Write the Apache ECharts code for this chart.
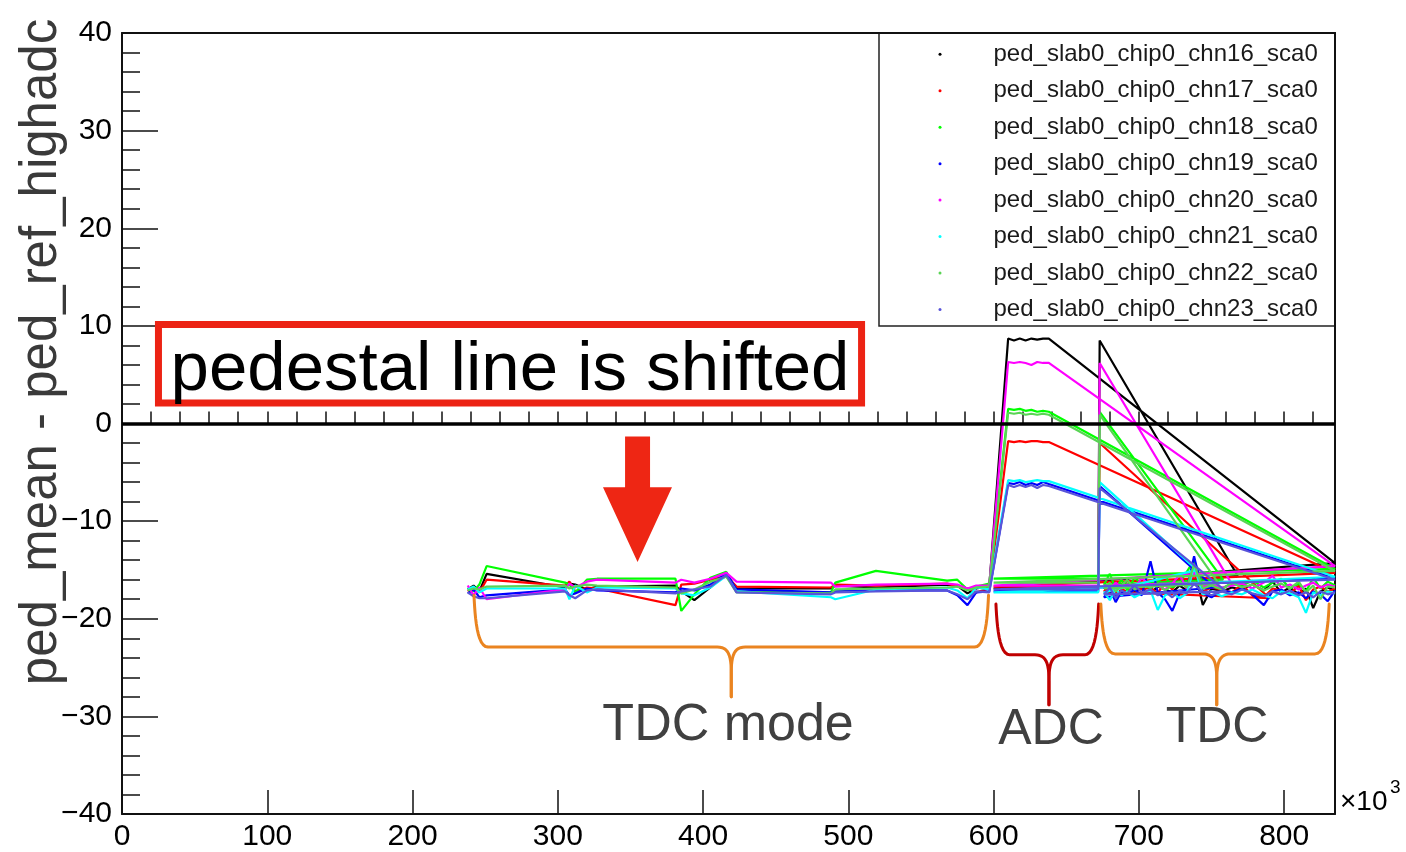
<!DOCTYPE html>
<html>
<head>
<meta charset="utf-8">
<script src="https://cdn.jsdelivr.net/npm/echarts@6/dist/echarts.min.js"></script>
<style>
  html, body { margin: 0; padding: 0; background: #ffffff; }
  #chart { width: 1406px; height: 852px; }
</style>
</head>
<body>
<div id="chart"></div>
<script>
// Pedestal drift per channel: ped_mean - ped_ref_highadc versus time (x in units of 10^3)
const channels = [
  'ped_slab0_chip0_chn16_sca0', 'ped_slab0_chip0_chn17_sca0',
  'ped_slab0_chip0_chn18_sca0', 'ped_slab0_chip0_chn19_sca0',
  'ped_slab0_chip0_chn20_sca0', 'ped_slab0_chip0_chn21_sca0',
  'ped_slab0_chip0_chn22_sca0', 'ped_slab0_chip0_chn23_sca0'
];
const colors = ['#000000', '#ff0000', '#00ff00', '#0000ff', '#ff00ff', '#00ffff', '#59d454', '#5954d9'];

const xRange = [0, 835];
const yRange = [-40, 40];

// first TDC-mode period
const tdc1X = [238, 242, 246, 251, 305, 308, 312, 320, 327, 381, 385, 394, 405, 416, 423, 488, 491, 519, 568, 575, 582, 588, 597];
const tdc1Y = [
  [-17.0, -16.6, -17.2, -15.4, -16.8, -16.4, -16.5, -17.0, -16.7, -16.6, -17.2, -18.1, -16.8, -15.4, -16.9, -16.9, -16.6, -16.8, -16.5, -16.6, -17.4, -16.9, -16.7],
  [-17.2, -16.8, -17.3, -16.0, -16.6, -16.2, -17.2, -16.8, -16.9, -18.6, -16.5, -16.4, -16.0, -15.6, -16.7, -16.8, -16.5, -16.6, -16.4, -16.7, -16.9, -17.3, -16.9],
  [-16.8, -17.2, -16.5, -14.6, -16.3, -16.5, -17.3, -16.0, -15.9, -15.9, -19.2, -17.5, -15.8, -15.2, -17.2, -17.3, -16.3, -15.1, -16.1, -16.0, -17.0, -16.7, -16.4],
  [-17.4, -17.0, -17.8, -17.6, -17.0, -17.6, -17.4, -16.9, -17.1, -17.3, -16.9, -17.1, -16.5, -15.3, -17.0, -17.3, -17.2, -17.1, -17.1, -17.6, -18.6, -17.3, -17.2],
  [-16.6, -17.6, -16.8, -18.0, -17.0, -16.4, -16.8, -16.2, -16.0, -16.3, -16.0, -16.3, -15.9, -15.3, -16.2, -16.3, -16.7, -16.5, -16.4, -16.5, -16.9, -16.6, -16.6],
  [-17.0, -16.7, -17.3, -16.9, -16.9, -18.0, -16.6, -17.3, -16.8, -16.9, -17.4, -17.6, -16.8, -15.6, -17.2, -17.8, -18.0, -17.0, -16.8, -17.1, -17.9, -16.8, -17.0],
  [-17.1, -16.9, -17.0, -16.7, -16.6, -16.9, -16.7, -16.5, -16.6, -16.8, -17.4, -17.0, -16.2, -15.7, -17.3, -17.4, -17.0, -16.9, -16.8, -16.7, -17.1, -16.8, -16.7],
  [-17.3, -17.7, -17.9, -17.9, -17.2, -17.6, -17.9, -17.1, -17.0, -17.4, -17.2, -17.0, -16.7, -15.5, -17.3, -17.5, -17.3, -17.2, -17.1, -17.5, -18.0, -17.2, -17.3]
];

// first ADC-mode plateau
const adc1X = [610, 614, 618, 622, 626, 630, 634, 638];
const adc1Y = [
  [8.7, 8.5, 8.7, 8.5, 8.7, 8.6, 8.7, 8.7],
  [-1.8, -1.9, -1.8, -1.9, -1.8, -1.8, -1.9, -1.9],
  [1.5, 1.4, 1.5, 1.3, 1.4, 1.2, 1.3, 1.2],
  [-6.1, -6.2, -6.0, -6.3, -6.1, -6.3, -6.0, -6.2],
  [6.3, 6.2, 6.3, 6.2, 6.0, 6.3, 6.2, 6.2],
  [-5.8, -5.9, -5.8, -6.0, -5.9, -5.8, -5.9, -5.9],
  [1.1, 1.0, 1.1, 0.9, 1.0, 0.9, 1.0, 0.9],
  [-6.3, -6.5, -6.3, -6.5, -6.3, -6.6, -6.3, -6.4]
];

// last run of the series, then the flat TDC readings under the ADC period
const tailX = 835;
const tailY = [-14.3, -15.3, -14.9, -15.9, -14.6, -15.7, -15.1, -16.0];
const bandX = [600, 672];
const bandY = [-16.9, -16.7, -15.9, -17.2, -16.6, -17.3, -16.3, -17.0];

// second ADC-mode reading and the following run
const adc2X = 673;
const adc2Y = [8.5, -2.0, 1.2, -6.4, 6.2, -6.0, 0.9, -6.6];
const dropX = [768, 790, 758, 752, 763, 740, 755, 760];
const dropY = [-15.6, -17.9, -16.0, -16.8, -16.2, -15.0, -16.4, -17.2];

// second TDC-mode period
const tdc2X = [676, 680, 684, 688, 692, 697, 702, 708, 713, 718, 723, 728, 733, 738, 744, 750, 757, 764, 771, 778, 786, 792, 798, 804, 810, 815, 820, 825, 830, 835];
const tdc2Y = [
  [-16.8, -17.5, -16.2, -17.0, -15.9, -17.2, -16.9, -17.4, -16.7, -17.0, -17.3, -16.6, -17.1, -14.8, -18.6, -16.9, -17.2, -16.8, -17.0, -16.5, -17.1, -16.2, -17.3, -16.8, -17.5, -16.9, -18.9, -17.2, -16.8, -17.1],
  [-17.2, -16.5, -17.8, -16.9, -17.3, -16.6, -17.0, -16.8, -17.4, -16.2, -17.0, -15.8, -16.9, -15.4, -17.2, -16.8, -17.0, -17.3, -16.5, -17.6, -17.8, -16.9, -17.1, -17.4, -16.6, -18.1, -17.0, -16.7, -17.2, -16.9],
  [-16.5, -15.4, -16.9, -16.0, -17.1, -15.8, -16.4, -16.9, -16.2, -15.6, -16.8, -16.3, -15.2, -14.0, -16.5, -16.7, -16.9, -16.4, -16.6, -16.1, -16.8, -16.3, -15.9, -16.9, -16.4, -17.2, -15.8, -16.9, -16.2, -16.6],
  [-17.8, -16.9, -18.3, -17.2, -17.5, -17.0, -17.6, -14.1, -17.3, -18.0, -19.2, -17.4, -17.0, -13.6, -17.4, -17.8, -17.1, -17.3, -16.9, -17.5, -18.6, -17.2, -17.0, -17.6, -17.3, -17.9, -17.2, -17.5, -18.2, -17.1],
  [-16.6, -17.0, -16.3, -16.8, -16.5, -16.9, -15.8, -16.7, -16.6, -17.0, -16.4, -15.5, -16.9, -15.1, -16.7, -16.5, -16.8, -16.6, -16.4, -16.9, -16.3, -15.6, -16.8, -16.5, -17.0, -16.6, -16.3, -16.8, -16.5, -16.7],
  [-17.3, -18.1, -17.0, -17.6, -17.2, -17.8, -17.4, -17.1, -19.1, -17.6, -17.3, -17.9, -17.4, -14.6, -17.5, -17.2, -17.7, -17.3, -17.5, -17.0, -17.6, -17.9, -17.2, -17.4, -17.8, -19.4, -17.3, -17.6, -17.2, -17.4],
  [-16.9, -16.3, -17.2, -16.6, -16.0, -17.0, -16.5, -16.8, -16.4, -17.1, -16.6, -16.2, -16.8, -14.4, -16.9, -16.6, -17.0, -16.3, -16.8, -16.5, -17.1, -16.7, -16.4, -16.9, -16.2, -17.3, -16.6, -18.0, -16.7, -16.8],
  [-17.5, -16.8, -17.9, -17.1, -17.4, -16.6, -17.3, -17.0, -17.6, -17.2, -17.8, -17.1, -17.4, -16.4, -17.3, -17.6, -17.2, -17.5, -17.0, -17.4, -17.7, -17.2, -17.5, -17.1, -17.6, -17.3, -17.8, -17.2, -17.5, -17.3]
];

const FONT = '"Liberation Sans", Arial, Helvetica, sans-serif';

// points of one channel, in acquisition order
function channelPoints(i) {
  const pts = [];
  tdc1X.forEach((x, k) => pts.push([x, tdc1Y[i][k]]));
  adc1X.forEach((x, k) => pts.push([x, adc1Y[i][k]]));
  pts.push([tailX, tailY[i]]);
  pts.push([bandX[0], bandY[i]]);
  pts.push([bandX[1], bandY[i]]);
  pts.push([adc2X, adc2Y[i]]);
  pts.push([dropX[i], dropY[i]]);
  tdc2X.forEach((x, k) => pts.push([x, tdc2Y[i][k]]));
  return pts;
}

const series = channels.map((name, i) => ({
  name: name,
  type: 'line',
  data: channelPoints(i),
  xAxisIndex: 0,
  yAxisIndex: 0,
  showSymbol: false,
  symbol: 'circle',
  color: colors[i],
  lineStyle: { width: 2.2, color: colors[i] },
  itemStyle: { color: colors[i] },
  emphasis: { disabled: true },
  animation: false
}));

// reference line at zero
series[series.length - 1].markLine = {
  silent: true,
  symbol: ['none', 'none'],
  z: 10,
  label: { show: false },
  lineStyle: { color: '#000000', width: 3.5, type: 'solid' },
  data: [{ yAxis: 0 }]
};

const chart = echarts.init(document.getElementById('chart'), null, { renderer: 'canvas' });

const minus = v => String(v).replace('-', '\u2212');

chart.setOption({
  backgroundColor: '#ffffff',
  animation: false,
  grid: { left: 122, right: 71, top: 33, bottom: 35, containLabel: false },
  legend: {
    orient: 'vertical',
    left: 933.5,
    top: 37.3,
    icon: 'circle',
    itemWidth: 3,
    itemHeight: 3,
    itemGap: 12.45,
    selectedMode: false,
    textStyle: { fontFamily: FONT, fontSize: 24, color: '#1a1a1a', padding: [0, 0, 0, 47] },
    data: channels
  },
  xAxis: [
    {
      type: 'value', position: 'bottom', min: xRange[0], max: xRange[1], interval: 100,
      axisLine: { show: true, onZero: false, lineStyle: { color: '#111', width: 2 } },
      axisTick: { show: true, inside: true, length: 24, lineStyle: { color: '#111', width: 1.5 } },
      axisLabel: { fontFamily: FONT, fontSize: 30, color: '#000', margin: 8, showMaxLabel: false },
      splitLine: { show: false }
    },
    {
      type: 'value', position: 'bottom', min: xRange[0], max: xRange[1], interval: 20,
      axisLine: { show: false },
      axisTick: { show: true, inside: true, length: 12, lineStyle: { color: '#111', width: 1.5 } },
      axisLabel: { show: false },
      splitLine: { show: false }
    },
    {
      type: 'value', position: 'top', min: xRange[0], max: xRange[1],
      axisLine: { show: true, onZero: false, lineStyle: { color: '#111', width: 2 } },
      axisTick: { show: false }, axisLabel: { show: false }, splitLine: { show: false }
    }
  ],
  yAxis: [
    {
      type: 'value', position: 'left', min: yRange[0], max: yRange[1], interval: 10,
      axisLine: { show: true, onZero: false, lineStyle: { color: '#111', width: 2 } },
      axisTick: { show: true, inside: true, length: 36, lineStyle: { color: '#111', width: 1.5 } },
      minorTick: { show: true, splitNumber: 5, length: 18, lineStyle: { color: '#111', width: 1.5 } },
      axisLabel: { fontFamily: FONT, fontSize: 30, color: '#000', margin: 10, formatter: minus },
      splitLine: { show: false }
    },
    {
      type: 'value', position: 'right', min: yRange[0], max: yRange[1],
      axisLine: { show: true, onZero: false, lineStyle: { color: '#111', width: 2 } },
      axisTick: { show: false }, axisLabel: { show: false }, splitLine: { show: false }
    }
  ],
  series: series
});

// annotations placed in data coordinates
const P = (x, y) => chart.convertToPixel({ seriesIndex: 0 }, [x, y]);

// sample a cubic Bezier segment into points
function cubic(p0, p1, p2, p3, n) {
  const out = [];
  for (let k = 1; k <= n; k++) {
    const t = k / n, u = 1 - t;
    out.push([
      u * u * u * p0[0] + 3 * u * u * t * p1[0] + 3 * u * t * t * p2[0] + t * t * t * p3[0],
      u * u * u * p0[1] + 3 * u * u * t * p1[1] + 3 * u * t * t * p2[1] + t * t * t * p3[1]
    ]);
  }
  return out;
}

// one half of a curly brace, from an outer end to the tip
function braceHalf(xEnd, xc, top, h, tip, dir) {
  const pts = [[xEnd, top]];
  pts.push(...cubic([xEnd, top], [xEnd + dir * 1, h - 30], [xEnd + dir * 3, h], [xEnd + dir * 14, h], 12));
  pts.push([xc - dir * 14, h]);
  pts.push(...cubic([xc - dir * 14, h], [xc - dir * 3, h], [xc, h + 8], [xc, h + 26], 12));
  pts.push([xc, tip]);
  return pts;
}

const braces = [
  { x0: 242.3, x1: 596.5, xc: 419.4, yTop: -17.6, yH: -22.9, yTip: -28.0, color: '#ea8420' },
  { x0: 601.6, x1: 672.3, xc: 638.1, yTop: -18.5, yH: -23.7, yTip: -28.8, color: '#c00000' },
  { x0: 673.8, x1: 831.0, xc: 753.6, yTop: -18.5, yH: -23.6, yTip: -28.8, color: '#ea8420' }
];

const gridTR = P(xRange[1], yRange[1]);
const gridBR = P(xRange[1], yRange[0]);
const boxA = P(25.1, 10.15), boxB = P(509.1, 2.09);
const arrowPts = [
  [346.3, -1.33], [363.5, -1.33], [363.5, -6.53], [378.6, -6.53],
  [354.9, -14.18], [331.1, -6.53], [346.3, -6.53]
].map(p => P(p[0], p[1]));

const graphics = [];

// legend frame
graphics.push({
  type: 'rect', silent: true, z: 0,
  shape: { x: gridTR[0] - 456, y: gridTR[1], width: 456, height: 293 },
  style: { fill: '#ffffff', stroke: '#222', lineWidth: 1.5 }
});

// y axis title
graphics.push({
  type: 'text', silent: true, x: 42, y: 352, rotation: Math.PI / 2,
  style: { text: 'ped_mean - ped_ref_highadc', fontFamily: FONT, fontSize: 51, fill: '#3a3a3a', align: 'center', verticalAlign: 'middle' }
});

// x axis multiplier
graphics.push({
  type: 'text', silent: true, x: gridBR[0] + 5, y: gridBR[1] - 12,
  style: { text: '\u00d710', fontFamily: FONT, fontSize: 28, fill: '#000', align: 'left', verticalAlign: 'middle' }
});
graphics.push({
  type: 'text', silent: true, x: gridBR[0] + 55, y: gridBR[1] - 26,
  style: { text: '3', fontFamily: FONT, fontSize: 19, fill: '#000', align: 'left', verticalAlign: 'middle' }
});

// highlighted remark
graphics.push({
  type: 'rect', silent: true, z: 20,
  shape: { x: boxA[0], y: boxA[1], width: boxB[0] - boxA[0], height: boxB[1] - boxA[1] },
  style: { fill: '#ffffff', stroke: '#ec2314', lineWidth: 7 }
});
graphics.push({
  type: 'text', silent: true, z: 21,
  x: (boxA[0] + boxB[0]) / 2, y: P(0, 5.4)[1],
  style: { text: 'pedestal line is shifted', fontFamily: FONT, fontSize: 69, fill: '#000', align: 'center', verticalAlign: 'middle' }
});
graphics.push({
  type: 'polygon', silent: true, z: 20,
  shape: { points: arrowPts },
  style: { fill: '#ee2614', stroke: null }
});

braces.forEach(b => {
  const a = P(b.x0, b.yTop), r = P(b.x1, b.yTop), c = P(b.xc, b.yH), t = P(b.xc, b.yTip);
  [[a[0], 1], [r[0], -1]].forEach(([xe, dir]) => {
    graphics.push({
      type: 'polyline', silent: true, z: 20,
      shape: { points: braceHalf(xe, c[0], a[1], c[1], t[1], dir) },
      style: { fill: null, stroke: b.color, lineWidth: 3, lineJoin: 'round', lineCap: 'round' }
    });
  });
});

const labels = [
  { text: 'TDC mode', x: 417.2, y: -30.9, size: 52 },
  { text: 'ADC', x: 639.5, y: -31.4, size: 50 },
  { text: 'TDC', x: 753.8, y: -31.2, size: 50 }
];
labels.forEach(l => {
  const p = P(l.x, l.y);
  graphics.push({
    type: 'text', silent: true, z: 21, x: p[0], y: p[1],
    style: { text: l.text, fontFamily: FONT, fontSize: l.size, fill: '#404040', align: 'center', verticalAlign: 'middle' }
  });
});

chart.setOption({ graphic: graphics });
</script>
</body>
</html>
